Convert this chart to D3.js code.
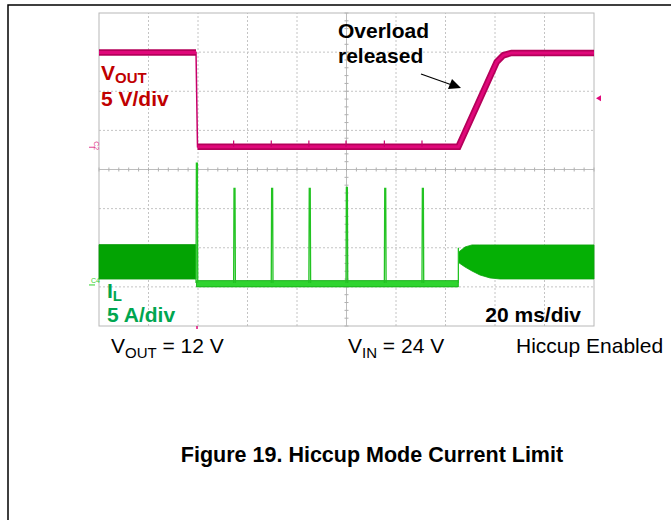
<!DOCTYPE html>
<html>
<head>
<meta charset="utf-8">
<script src="https://cdn.jsdelivr.net/npm/d3@7"></script>
<style>
body { margin: 0; background: #fff; }
text { font-family: "Liberation Sans", Arial, sans-serif; }
</style>
</head>
<body>
<div id="chart"></div>
<script>
// time base: 20 ms/div, 10 x 8 divisions
var timeDomain = [0, 200];
var xDivs = 10, yDivs = 8;

// C2: VOUT, 5 V/div (time ms, volts)
var voutT = [0, 39.2, 39.8, 145.2, 160.7, 163.4, 166.7, 200];
var voutV = [11.85, 11.85, -0.2, -0.2, 10.65, 11.5, 11.8, 11.8];
var voutGlitchT = [54.4, 69.6, 84.8, 99.8, 115.3, 130.5];

// C4: IL, 5 A/div, switching ripple envelopes (time ms, amps)
var ilPreT = [0, 39.2];
var ilPreHi = [4.9, 4.9];
var ilPreLo = [0.5, 0.5];
var ilOffT = [39.4, 145.2];
var ilOffHi = [0.3, 0.3];
var ilOffLo = [-0.5, -0.5];
var ilPostT = [145.3, 145.5, 147.9, 150.7, 153.9, 158.0, 162.0, 200];
var ilPostHi = [3.3, 4.0, 4.6, 4.86, 4.86, 4.86, 4.86, 4.86];
var ilPostLo = [2.9, 2.56, 2.04, 1.53, 1.02, 0.64, 0.51, 0.51];

// hiccup current pulses
var pulseT = [39.2, 54.4, 69.6, 84.8, 99.8, 115.3, 130.5];
var pulsePeak = [15.3, 12.1, 12.1, 12.1, 12.2, 12.1, 12.1];
var stepT = 145.2, stepPeak = 4.5;

// scope markers
var c2OffsetDiv = 0.62, c4OffsetDiv = -2.9;
var trigLevelV = 6.0, trigT = 39.6;

var W = 671, H = 520;
var svg = d3.select("#chart")
	.append("svg")
	.attr("width", W)
	.attr("height", H);

svg.append("rect").attr("width", W).attr("height", H).attr("fill", "#fff");

// page frame
svg.append("path")
	.attr("d", "M8,520 L8,5 L671,5")
	.attr("fill", "none")
	.attr("stroke", "#000")
	.attr("stroke-width", 1.5);

var x = d3.scaleLinear().domain(timeDomain).range([99, 594]);
var yDiv = d3.scaleLinear().domain([-yDivs/2, yDivs/2]).range([326, 13]);
var yV = d3.scaleLinear().domain([0, 5]).range([yDiv(c2OffsetDiv), yDiv(c2OffsetDiv + 1)]);
var yI = d3.scaleLinear().domain([0, 5]).range([yDiv(c4OffsetDiv), yDiv(c4OffsetDiv + 1)]);
var divT = (timeDomain[1] - timeDomain[0]) / xDivs;

// grid
var grid = svg.append("g");
grid.selectAll("line.v")
	.data(d3.range(1, xDivs).filter(function(i) { return i != xDivs/2; }))
	.enter().append("line")
	.attr("x1", function(i) { return x(i*divT); })
	.attr("x2", function(i) { return x(i*divT); })
	.attr("y1", yDiv(-4)).attr("y2", yDiv(4))
	.attr("stroke", "#c4c4c4").attr("stroke-dasharray", "2,2");
grid.selectAll("line.h")
	.data(d3.range(-3, 4).filter(function(j) { return j != 0; }))
	.enter().append("line")
	.attr("y1", function(j) { return yDiv(j); })
	.attr("y2", function(j) { return yDiv(j); })
	.attr("x1", x(0)).attr("x2", x(200))
	.attr("stroke", "#c4c4c4").attr("stroke-dasharray", "2,2");
// center cross with minor ticks
grid.append("line")
	.attr("x1", x(100)).attr("x2", x(100)).attr("y1", yDiv(-4)).attr("y2", yDiv(4))
	.attr("stroke", "#bdbdbd");
grid.append("line")
	.attr("x1", x(0)).attr("x2", x(200)).attr("y1", yDiv(0)).attr("y2", yDiv(0))
	.attr("stroke", "#bdbdbd");
grid.selectAll("line.tx")
	.data(d3.range(0, 200.1, divT/5))
	.enter().append("line")
	.attr("x1", function(t) { return x(t); }).attr("x2", function(t) { return x(t); })
	.attr("y1", yDiv(0) - 2).attr("y2", yDiv(0) + 2)
	.attr("stroke", "#b0b0b0");
grid.selectAll("line.ty")
	.data(d3.range(-4, 4.01, 0.2))
	.enter().append("line")
	.attr("y1", function(d) { return yDiv(d); }).attr("y2", function(d) { return yDiv(d); })
	.attr("x1", x(100) - 2).attr("x2", x(100) + 2)
	.attr("stroke", "#b0b0b0");
grid.append("rect")
	.attr("x", x(0)).attr("y", yDiv(4))
	.attr("width", x(200) - x(0)).attr("height", yDiv(-4) - yDiv(4))
	.attr("fill", "none").attr("stroke", "#b8b8b8");

// IL envelopes
function band(T, hi, lo) {
	return d3.area()
		.x(function(d, i) { return x(T[i]); })
		.y0(function(d, i) { return yI(lo[i]); })
		.y1(function(d, i) { return yI(hi[i]); })(T);
}
svg.append("path").attr("d", band(ilPreT, ilPreHi, ilPreLo))
	.attr("fill", "#03a303").attr("stroke", "#0a9a0a").attr("stroke-width", 0.8);
svg.append("path").attr("d", band(ilOffT, ilOffHi, ilOffLo))
	.attr("fill", "#2fd42f").attr("stroke", "#10a810").attr("stroke-width", 0.8);
svg.append("path").attr("d", band(ilPostT, ilPostHi, ilPostLo))
	.attr("fill", "#05b005").attr("stroke", "#0aa50a").attr("stroke-width", 0.8);

var pulseLine = d3.line();
svg.selectAll("path.pulse")
	.data(pulseT)
	.enter().append("path")
	.attr("d", function(t, i) {
		return pulseLine([
			[x(t), yI(0)], [x(t + 0.15), yI(pulsePeak[i])],
			[x(t + 0.55), yI(pulsePeak[i])], [x(t + 0.7), yI(0)]
		]);
	})
	.attr("fill", "none").attr("stroke", "#22c322").attr("stroke-width", 1.3);
svg.append("line")
	.attr("x1", x(stepT)).attr("x2", x(stepT))
	.attr("y1", yI(0)).attr("y2", yI(stepPeak))
	.attr("stroke", "#22c322").attr("stroke-width", 1.3);

// VOUT trace: thick noisy levels, thin fast edge
var vLine = d3.line()
	.x(function(d, i) { return x(voutT[i]); })
	.y(function(d, i) { return yV(voutV[i]); });
svg.append("path")
	.attr("d", vLine(voutT))
	.attr("fill", "none").attr("stroke", "#c8006a").attr("stroke-width", 1.5);
[[0, 2], [2, voutT.length]].forEach(function(r) {
	var line = d3.line()
		.x(function(d) { return x(voutT[d]); })
		.y(function(d) { return yV(voutV[d]); });
	var idx = d3.range(r[0], r[1]);
	svg.append("path").attr("d", line(idx))
		.attr("fill", "none").attr("stroke", "#b5005a").attr("stroke-width", 6.5);
	svg.append("path").attr("d", line(idx))
		.attr("fill", "none").attr("stroke", "#e0087a").attr("stroke-width", 3);
});
svg.selectAll("line.glitch")
	.data(voutGlitchT)
	.enter().append("line")
	.attr("x1", function(t) { return x(t); }).attr("x2", function(t) { return x(t); })
	.attr("y1", yV(-0.2)).attr("y2", yV(0.6))
	.attr("stroke", "#c8006a").attr("stroke-width", 1.2);

// channel / trigger markers
svg.append("text")
	.attr("transform", "translate(" + (x(0) - 5) + "," + (yV(0) - 4) + ") rotate(90)")
	.attr("font-size", 7).attr("fill", "#e04090").text("C2");
svg.append("line")
	.attr("x1", x(0) - 10).attr("x2", x(0) - 4).attr("y1", yV(0) + 2).attr("y2", yV(0) + 2)
	.attr("stroke", "#e04090");
svg.append("text")
	.attr("x", x(0) - 8).attr("y", yI(0))
	.attr("font-size", 7).attr("fill", "#30d030").text("C4");
svg.append("line")
	.attr("x1", x(0) - 10).attr("x2", x(0) - 4).attr("y1", yI(0) + 2).attr("y2", yI(0) + 2)
	.attr("stroke", "#30d030");
svg.append("path")
	.attr("d", "M" + (x(200) + 2) + "," + yV(trigLevelV) + " l5,-3 l0,6 z")
	.attr("fill", "#e0087a");
svg.append("line")
	.attr("x1", x(trigT)).attr("x2", x(trigT))
	.attr("y1", yDiv(-4)).attr("y2", yDiv(-4) + 3)
	.attr("stroke", "#e0087a").attr("stroke-width", 1.5);

// labels
var red = "#c00000", green = "#00a650";
var t1 = svg.append("text").attr("x", 101).attr("y", 80)
	.attr("font-size", 21).attr("font-weight", "bold").attr("fill", red);
t1.append("tspan").text("V");
t1.append("tspan").attr("font-size", 15).attr("dy", 3).text("OUT");
svg.append("text").attr("x", 101).attr("y", 106)
	.attr("font-size", 21).attr("font-weight", "bold").attr("fill", red).text("5 V/div");

var t2 = svg.append("text").attr("x", 107).attr("y", 298)
	.attr("font-size", 21).attr("font-weight", "bold").attr("fill", green);
t2.append("tspan").text("I");
t2.append("tspan").attr("font-size", 15).attr("dy", 3).text("L");
svg.append("text").attr("x", 107).attr("y", 322)
	.attr("font-size", 21).attr("font-weight", "bold").attr("fill", green).text("5 A/div");

svg.append("text").attr("x", 581).attr("y", 322).attr("text-anchor", "end")
	.attr("font-size", 21).attr("font-weight", "bold").attr("fill", "#000").text("20 ms/div");

svg.append("text").attr("x", 338).attr("y", 38)
	.attr("font-size", 21).attr("font-weight", "bold").text("Overload");
svg.append("text").attr("x", 338).attr("y", 63)
	.attr("font-size", 21).attr("font-weight", "bold").text("released");
svg.append("line")
	.attr("x1", 421).attr("y1", 74).attr("x2", 452).attr("y2", 85)
	.attr("stroke", "#000").attr("stroke-width", 1.3);
svg.append("path").attr("d", "M461,88 L448,89 L452,79 Z").attr("fill", "#000");

// conditions row
function cond(xp, main, sub, rest) {
	var t = svg.append("text").attr("x", xp).attr("y", 353).attr("font-size", 21).attr("fill", "#000");
	t.append("tspan").text(main);
	if (sub) {
		t.append("tspan").attr("font-size", 15).attr("dy", 5).text(sub);
		t.append("tspan").attr("dy", -5).text(rest);
	}
}
cond(111, "V", "OUT", " = 12 V");
cond(348, "V", "IN", " = 24 V");
cond(516, "Hiccup Enabled");

svg.append("text").attr("x", 372).attr("y", 462).attr("text-anchor", "middle")
	.attr("font-size", 21.5).attr("font-weight", "bold")
	.text("Figure 19. Hiccup Mode Current Limit");
</script>
</body>
</html>
